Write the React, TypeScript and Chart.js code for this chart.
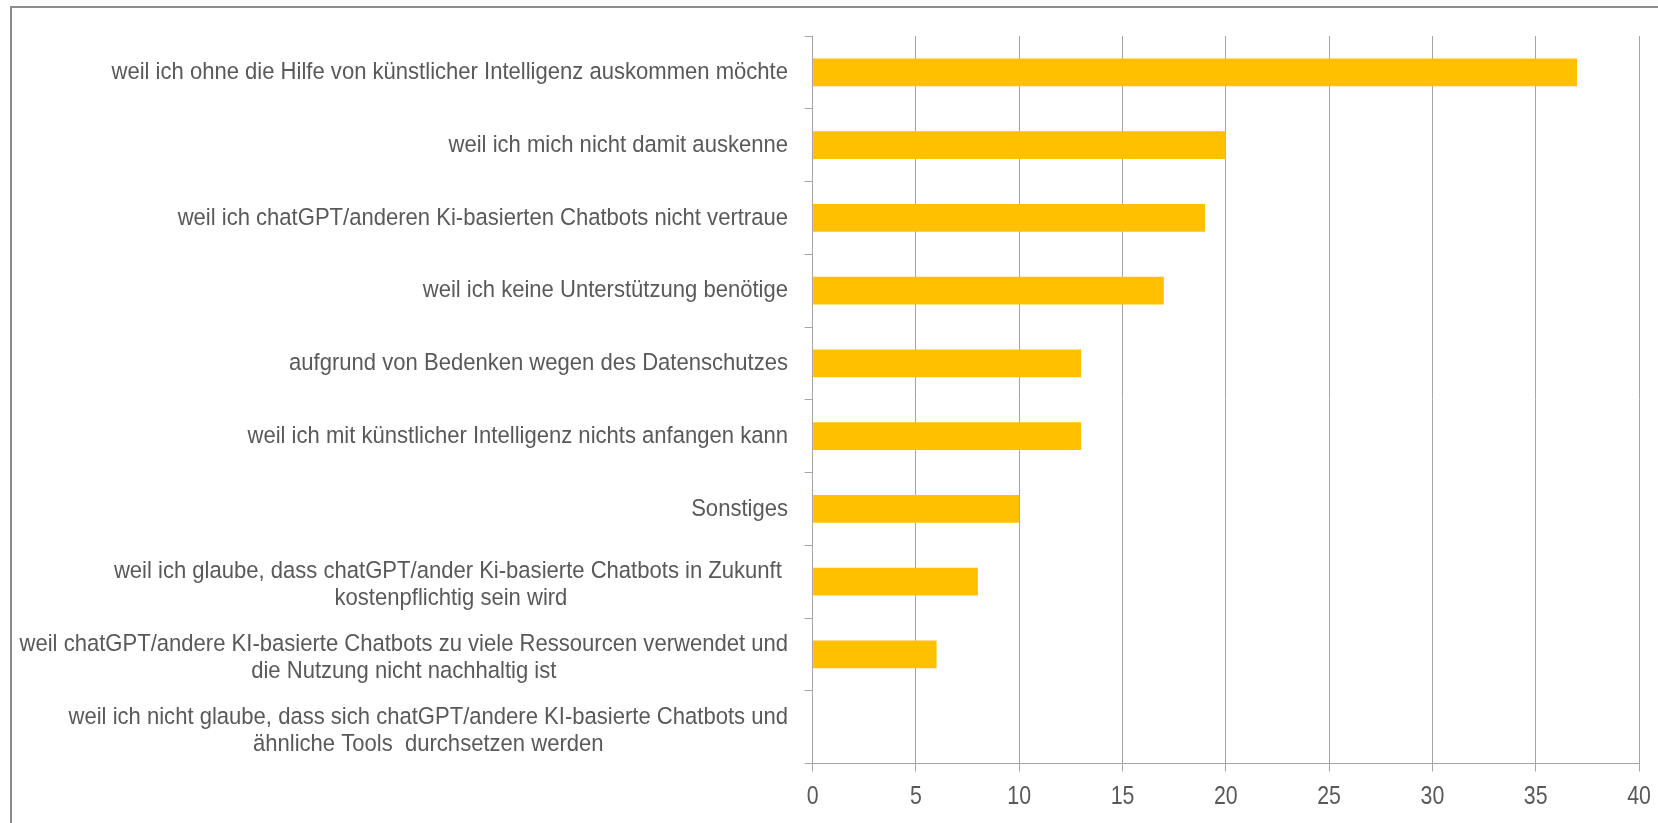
import React, { useEffect, useRef } from "react";
import { Chart, registerables } from "chart.js";

Chart.register(...registerables);

const categories: string[][] = [
  ["weil ich ohne die Hilfe von künstlicher Intelligenz auskommen möchte"],
  ["weil ich mich nicht damit auskenne"],
  ["weil ich chatGPT/anderen Ki-basierten Chatbots nicht vertraue"],
  ["weil ich keine Unterstützung benötige"],
  ["aufgrund von Bedenken wegen des Datenschutzes"],
  ["weil ich mit künstlicher Intelligenz nichts anfangen kann"],
  ["Sonstiges"],
  ["weil ich glaube, dass chatGPT/ander Ki-basierte Chatbots in Zukunft ", "kostenpflichtig sein wird"],
  ["weil chatGPT/andere KI-basierte Chatbots zu viele Ressourcen verwendet und", "die Nutzung nicht nachhaltig ist"],
  ["weil ich nicht glaube, dass sich chatGPT/andere KI-basierte Chatbots und", "ähnliche Tools  durchsetzen werden"],
];

const values: number[] = [37, 20, 19, 17, 13, 13, 10, 8, 6, 0];

const xMin = 0;
const xMax = 40;
const xStep = 5;

const FONT = "'Liberation Sans', Arial, sans-serif";
const TEXT = "#595959";
const GRID = "#a6a6a6";
const BAR = "#FFC000";
const SX = 0.9;

function drawCondensed(ctx: CanvasRenderingContext2D, text: string, cx: number, cy: number, sx: number) {
  ctx.save();
  ctx.translate(cx, cy);
  ctx.scale(sx, 1);
  ctx.fillText(text, 0, 0);
  ctx.restore();
}

const labelPlugin = {
  id: "condensedLabels",
  afterDraw(chart: any) {
    const ctx: CanvasRenderingContext2D = chart.ctx;
    const ys = chart.scales.y;
    const xs = chart.scales.x;
    ctx.save();
    ctx.fillStyle = TEXT;
    ctx.textBaseline = "middle";
    ctx.textAlign = "center";
    // category labels
    ctx.font = `24.5px ${FONT}`;
    const rightEdge = 788;
    const lh = 27;
    categories.forEach((lines, i) => {
      const yc = ys.getPixelForValue(i) + (lines.length > 1 ? 3.5 : 0);
      let w = 0;
      lines.forEach((l) => {
        w = Math.max(w, ctx.measureText(l).width * SX);
      });
      const cx = rightEdge - w / 2;
      const y0 = yc - ((lines.length - 1) * lh) / 2;
      lines.forEach((l, k) => drawCondensed(ctx, l, cx, y0 + k * lh, SX));
    });
    // value tick labels
    ctx.font = `26px ${FONT}`;
    xs.ticks.forEach((t: any) => {
      const x = xs.getPixelForValue(t.value);
      drawCondensed(ctx, String(t.value), x, 797, 0.82);
    });
    ctx.restore();
  },
};

export default function App() {
  const ref = useRef<HTMLCanvasElement | null>(null);
  useEffect(() => {
    if (!ref.current) return;
    const chart = new Chart(ref.current, {
      type: "bar",
      data: {
        labels: categories.map((c) => c.join(" ")),
        datasets: [
          {
            data: values,
            backgroundColor: BAR,
            borderWidth: 0,
            barPercentage: 0.38,
            categoryPercentage: 1,
          },
        ],
      },
      options: {
        indexAxis: "y",
        animation: false,
        responsive: false,
        devicePixelRatio: 1,
        layout: { padding: { top: 36, left: 0, right: 19, bottom: 9.5 } },
        plugins: { legend: { display: false }, tooltip: { enabled: false } },
        scales: {
          y: {
            type: "category",
            ticks: { display: false },
            grid: { drawOnChartArea: false, offset: true, tickLength: 8, color: GRID, lineWidth: 1 },
            border: { display: true, color: GRID, width: 1 },
            afterFit(scale: any) {
              scale.width = 812.6;
            },
          },
          x: {
            type: "linear",
            position: "bottom",
            min: xMin,
            max: xMax,
            ticks: { stepSize: xStep, display: false },
            grid: { color: GRID, tickLength: 8, lineWidth: 1 },
            border: { display: true, color: GRID, width: 1 },
            afterFit(scale: any) {
              scale.height = 50;
            },
          },
        },
      },
      plugins: [labelPlugin],
    } as any);
    return () => chart.destroy();
  }, []);

  return (
    <div style={{ position: "fixed", left: 0, top: 0, width: 1658, height: 823, overflow: "hidden", background: "#fff" }}>
      <div
        style={{
          position: "absolute",
          left: 10,
          top: 6,
          width: 1700,
          height: 900,
          border: "2px solid #8c8c8c",
          boxSizing: "border-box",
        }}
      />
      <canvas ref={ref} width={1658} height={823} style={{ position: "absolute", left: 0, top: 0 }} />
    </div>
  );
}
